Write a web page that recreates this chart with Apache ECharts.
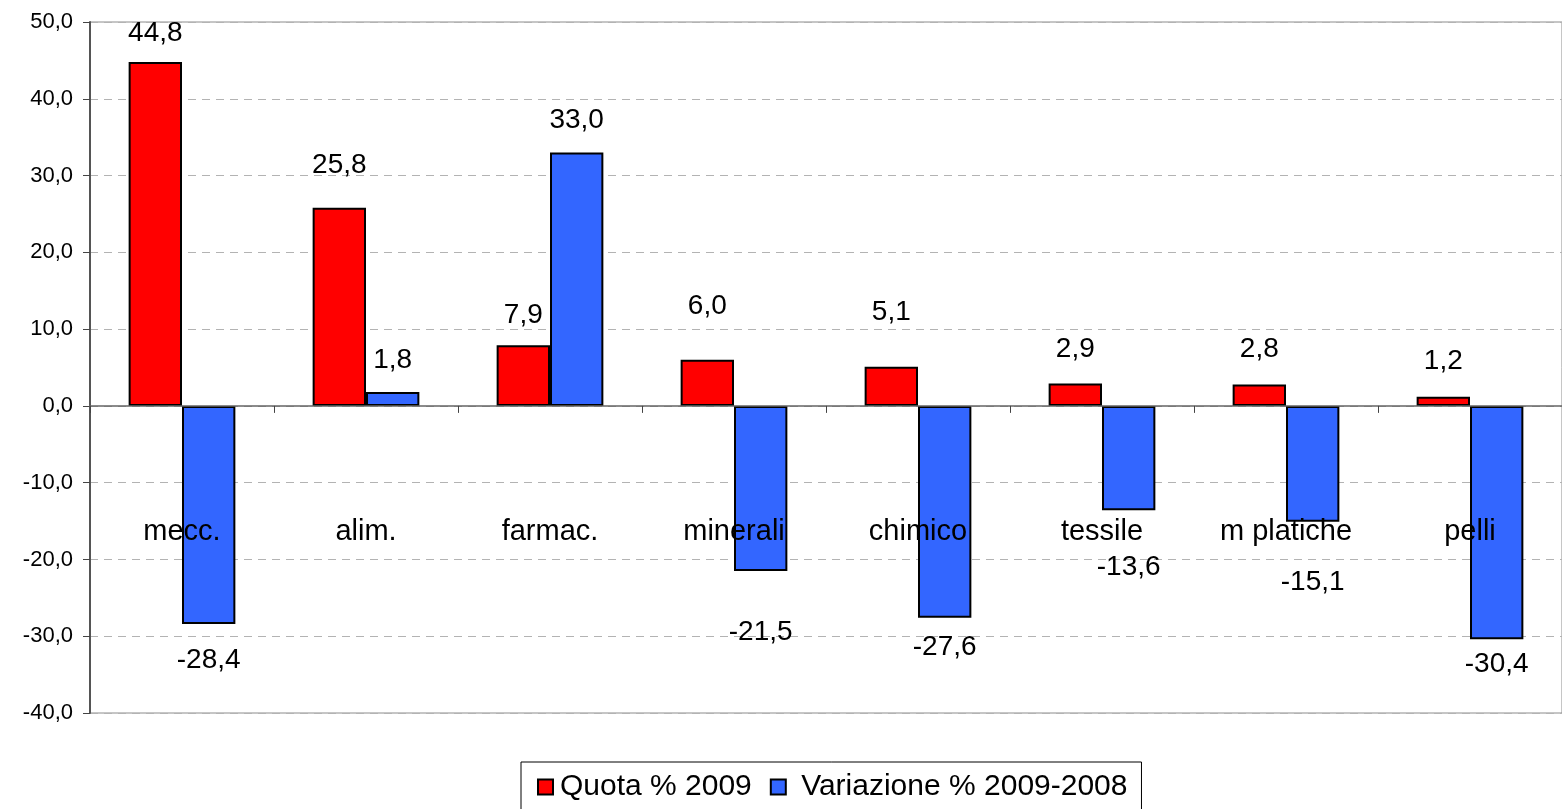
<!DOCTYPE html>
<html>
<head>
<meta charset="utf-8">
<script src="https://cdn.jsdelivr.net/npm/echarts@6/dist/echarts.min.js"></script>
<style>
  html, body { margin: 0; padding: 0; background: #fff; }
  #chart { width: 1562px; height: 809px; }
</style>
</head>
<body>
<div id="chart"></div>
<script>
// categorie e valori
const categories = ['mecc.', 'alim.', 'farmac.', 'minerali', 'chimico', 'tessile', 'm platiche', 'pelli']
const quota2009 = [44.8, 25.8, 7.9, 6.0, 5.1, 2.9, 2.8, 1.2]
const variazione = [-28.4, 1.8, 33.0, -21.5, -27.6, -13.6, -15.1, -30.4]
const yTicks = [-40, -30, -20, -10, 0, 10, 20, 30, 40, 50]

// distanza delle etichette dalla barra (come nell'originale Excel)
const quotaLabelDist = [15, 29, 16, 40, 40, 20, 21, 21]
const variazLabelDist = [22, 18, 18, 47, 15, 43, 46, 11]

const FONT = '"Liberation Sans", Arial, sans-serif'
const fmt = v => Number(v).toFixed(1).replace('.', ',')

function buildData(values, dists) {
  return values.map((v, i) => ({
    value: v,
    label: { position: v < 0 ? 'bottom' : 'top', distance: dists[i] }
  }))
}

const chart = echarts.init(document.getElementById('chart'))
const option = {
  animation: false,
  backgroundColor: '#fff',
  textStyle: { fontFamily: FONT },
  grid: {
    left: 90,
    right: 0,
    top: 22,
    bottom: 96,
    show: true,
    borderColor: '#8c8c8c',
    borderWidth: 1,
    containLabel: false,
    outerBoundsMode: 'none'
  },
  legend: {
    data: ['Quota % 2009', 'Variazione % 2009-2008'],
    // nell'originale c'è uno spazio in più prima della seconda voce
    formatter: name => name === 'Variazione % 2009-2008' ? ' ' + name : name,
    left: 521,
    top: 762,
    padding: [10, 14, 40, 16],
    icon: 'rect',
    itemWidth: 15,
    itemHeight: 15,
    itemGap: 18,
    borderColor: '#000',
    borderWidth: 1,
    textStyle: { fontFamily: FONT, fontSize: 30, color: '#000', padding: [0, 0, 0, 2] }
  },
  xAxis: {
    type: 'category',
    data: categories,
    z: 5,
    axisLine: { onZero: true, lineStyle: { color: '#666', width: 1.5 } },
    axisTick: { show: true, length: 7, lineStyle: { color: '#444' } },
    // in v6 le etichette restano sul bordo inferiore: margine negativo per portarle a -16
    axisLabel: { margin: -196, fontSize: 29, color: '#000', fontFamily: FONT },
    splitLine: { show: false }
  },
  yAxis: {
    type: 'value',
    min: yTicks[0],
    max: yTicks[yTicks.length - 1],
    interval: 10,
    axisLine: { show: true, lineStyle: { color: '#555', width: 2 } },
    axisTick: { show: true, length: 7, lineStyle: { color: '#444' } },
    axisLabel: { formatter: fmt, fontSize: 22, color: '#000', margin: 17, fontFamily: FONT },
    splitLine: { show: true, lineStyle: { color: '#b3b3b3', type: [8, 6], width: 1 } }
  },
  series: [
    {
      name: 'Quota % 2009',
      type: 'bar',
      data: buildData(quota2009, quotaLabelDist),
      barGap: '0%',
      barCategoryGap: '42%',
      itemStyle: { color: '#ff0000', borderColor: '#000', borderWidth: 2 },
      label: { show: true, formatter: p => fmt(p.value), fontSize: 28, color: '#000', fontFamily: FONT }
    },
    {
      name: 'Variazione % 2009-2008',
      type: 'bar',
      data: buildData(variazione, variazLabelDist),
      barGap: '0%',
      barCategoryGap: '42%',
      itemStyle: { color: '#3366ff', borderColor: '#000', borderWidth: 2 },
      label: { show: true, formatter: p => fmt(p.value), fontSize: 28, color: '#000', fontFamily: FONT }
    }
  ]
}
chart.setOption(option)
</script>
</body>
</html>
